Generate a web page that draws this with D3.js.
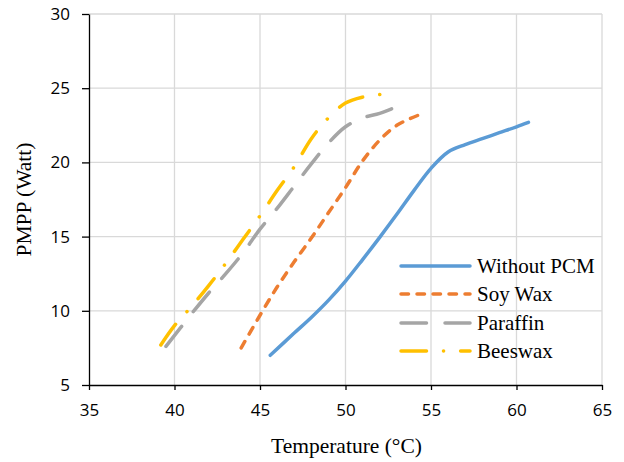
<!DOCTYPE html>
<html><head><meta charset="utf-8">
<script src="https://cdn.jsdelivr.net/npm/d3@7"></script>
<style>body{margin:0;background:#fff}</style>
</head><body><svg id="c" width="624" height="462"></svg>
<script>
const xTicks = [35,40,45,50,55,60,65];
const yTicks = [5,10,15,20,25,30];
const seriesNames = ["Without PCM","Soy Wax","Paraffin","Beeswax"];
const withoutPCM = [[45.6,7.0],[47,8.5],[48,9.55],[49,10.7],[50,12.0],[51,13.45],[52,14.95],[53,16.5],[54,18.1],[55,19.6],[56,20.7],[57,21.2],[58,21.6],[59,22.0],[60,22.4],[60.7,22.7]];
const soyWax = [[43.9,7.5],[45,9.7],[46,11.6],[47,13.3],[48,14.9],[49,16.6],[50,18.3],[51,20.1],[52,21.5],[53,22.5],[54.3,23.2]];
const paraffin = [[39.5,7.6],[41,9.8],[42,11.2],[43,12.5],[44,13.9],[45,15.5],[46,16.9],[47,18.4],[48,19.9],[49,21.3],[50,22.4],[51,23.0],[52,23.3],[52.9,23.7]];
const beeswax = [[39.2,7.7],[40,9.0],[41,10.3],[42,11.7],[43,13.2],[44,14.8],[45,16.4],[46,18.1],[47,19.7],[48,21.6],[49,23.0],[50,24.0],[51,24.4],[52.2,24.6]];

const styles = [
  {color:"#5B9BD5", dash:null},
  {color:"#ED7D31", dash:"7.5,8.5"},
  {color:"#A5A5A5", dash:"25.5,18.5"},
  {color:"#FFC000", dash:"25.5,17,0.1,17"}
];
const data = [withoutPCM, soyWax, paraffin, beeswax];
const serif = "Liberation Serif, Times New Roman, serif";

const svg = d3.select("#c");
const L=89, R=602, T=14, B=385;
const x = d3.scaleLinear().domain([35,65]).range([L,R]);
const y = d3.scaleLinear().domain([5,30]).range([B,T]);

// grid
svg.append("g").selectAll("line").data(xTicks.slice(1)).join("line")
  .attr("x1",d=>x(d)).attr("x2",d=>x(d)).attr("y1",T).attr("y2",B)
  .attr("stroke","#d9d9d9").attr("stroke-width",1.3);
svg.append("g").selectAll("line").data(yTicks.slice(1)).join("line")
  .attr("x1",L).attr("x2",R).attr("y1",d=>y(d)).attr("y2",d=>y(d))
  .attr("stroke","#d9d9d9").attr("stroke-width",1.3);

// axes
const xAxis = svg.append("g").attr("transform",`translate(0,${B})`)
  .call(d3.axisBottom(x).tickValues(xTicks).tickSize(5).tickSizeOuter(0).tickPadding(14));
const yAxis = svg.append("g").attr("transform",`translate(${L},0)`)
  .call(d3.axisLeft(y).tickValues(yTicks).tickSize(7).tickSizeOuter(0).tickPadding(12));
[xAxis,yAxis].forEach(a=>{
  a.select(".domain").attr("stroke","#000").attr("stroke-width",1.3);
  a.selectAll(".tick line").attr("stroke","#000").attr("stroke-width",1.3);
  a.selectAll("text").attr("font-family","Open Sans").attr("font-size",17).attr("fill","#000");
});

// lines
const line = d3.line().x(d=>x(d[0])).y(d=>y(d[1])).curve(d3.curveCatmullRom.alpha(0.5));
data.forEach((s,i)=>{
  svg.append("path").datum(s).attr("d",line).attr("fill","none")
    .attr("stroke",styles[i].color).attr("stroke-width",3.5)
    .attr("stroke-linecap","round")
    .attr("stroke-dasharray",styles[i].dash);
});

// legend
const legY = [266,294,323,351];
seriesNames.forEach((n,i)=>{
  svg.append("line").attr("x1",401).attr("x2",470).attr("y1",legY[i]).attr("y2",legY[i])
    .attr("stroke",styles[i].color).attr("stroke-width",3.5).attr("stroke-linecap","round")
    .attr("stroke-dasharray",styles[i].dash);
  svg.append("text").attr("font-family",serif).attr("x",477).attr("y",legY[i]).attr("dy","0.33em")
    .attr("font-size",21).attr("fill","#000").text(n);
});

// titles
svg.append("text").attr("font-family",serif).attr("x",(L+R)/2+1).attr("y",453).attr("text-anchor","middle")
  .attr("font-size",21.5).attr("fill","#000").text("Temperature (°C)");
svg.append("text").attr("font-family",serif).attr("transform",`translate(31,${(T+B)/2}) rotate(-90)`).attr("text-anchor","middle")
  .attr("font-size",21.5).attr("fill","#000").text("PMPP (Watt)");
</script></body></html>
